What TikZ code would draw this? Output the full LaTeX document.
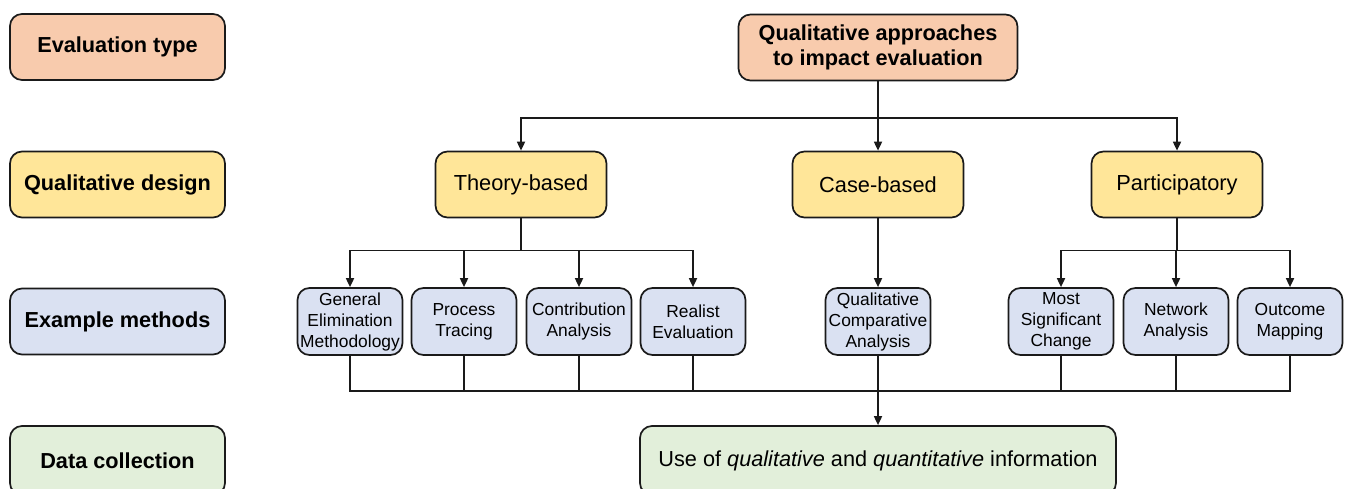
\documentclass[tikz,border=0pt]{standalone}
\usepackage{fontspec}
\setmainfont{Liberation Sans}
\usetikzlibrary{arrows.meta}
\definecolor{evalfill}{HTML}{F8CBAD}
\definecolor{designfill}{HTML}{FFE699}
\definecolor{methodfill}{HTML}{DAE1F2}
\definecolor{datafill}{HTML}{E2EFDA}
\definecolor{edge}{HTML}{1A1A1A}
\begin{document}
\begin{tikzpicture}[x=1pt,y=-1pt,
  box/.style={draw=edge,line width=1.7pt,rounded corners=12pt,align=center,inner sep=0pt},
  rowlabel/.style={box,minimum width=215pt,minimum height=66pt,font=\fontsize{21.7}{25}\selectfont\bfseries},
  evalbox/.style={fill=evalfill},
  designbox/.style={box,fill=designfill,minimum width=171pt,minimum height=66pt,font=\fontsize{21.8}{25}\selectfont},
  methodbox/.style={box,fill=methodfill,minimum width=105pt,minimum height=67pt,font=\fontsize{17.4}{21}\selectfont},
  link/.style={draw=edge,line width=1.7pt},
  arr/.style={link,-{Triangle[length=9pt,width=8pt]}}]
\useasboundingbox (0,0) rectangle (1346,489);
\begin{scope}
\clip (0,0) rectangle (1346,489);
% row labels
\node[rowlabel,evalbox] (lEval) at (117.5,47) {Evaluation type};
\node[rowlabel,fill=designfill] (lDesign) at (117.5,184.5) {Qualitative design};
\node[rowlabel,fill=methodfill] (lMethods) at (117.5,321.5) {Example methods};
\node[rowlabel,fill=datafill,minimum height=69pt] (lData) at (117.5,460.5) {Data collection};

% evaluation type
\node[box,evalbox,minimum width=279pt,minimum height=66pt,font=\fontsize{21.7}{25.5}\selectfont\bfseries] (top) at (878,47.5) {Qualitative approaches\\to impact evaluation};

% designs
\node[designbox] (tb) at (521,184.5) {Theory-based};
\node[designbox] (cb) at (878,184.5) {Case-based};
\node[designbox] (pa) at (1177,184.5) {Participatory};

% methods
\node[methodbox] (m1) at (350,321.5) {General\\Elimination\\Methodology};
\node[methodbox] (m2) at (464,321.5) {Process\\Tracing};
\node[methodbox] (m3) at (579,321.5) {Contribution\\Analysis};
\node[methodbox] (m4) at (693,321.5) {Realist\\Evaluation};
\node[methodbox] (m5) at (878,321.5) {Qualitative\\Comparative\\Analysis};
\node[methodbox] (m6) at (1061,321.5) {Most\\Significant\\Change};
\node[methodbox] (m7) at (1176,321.5) {Network\\Analysis};
\node[methodbox] (m8) at (1290,321.5) {Outcome\\Mapping};

% data collection
\node[box,fill=datafill,minimum width=476pt,minimum height=69pt,font=\fontsize{21.7}{25}\selectfont] (data) at (878,460.5) {Use of \textit{qualitative} and \textit{quantitative} information};

% connectors: evaluation type to designs
\draw[arr] (top.south) -- ++(0,37) -| (tb.north);
\draw[arr] (top.south) -- (cb.north);
\draw[arr] (top.south) -- ++(0,37) -| (pa.north);

% designs to methods
\draw[arr] (tb.south) -- ++(0,32) -| (m1.north);
\draw[arr] (tb.south) -- ++(0,32) -| (m2.north);
\draw[arr] (tb.south) -- ++(0,32) -| (m3.north);
\draw[arr] (tb.south) -- ++(0,32) -| (m4.north);
\draw[arr] (cb.south) -- (m5.north);
\draw[arr] (pa.south) -- ++(0,32) -| (m6.north);
\draw[arr] (pa.south) -- ++(0,32) -| (m7.north);
\draw[arr] (pa.south) -- ++(0,32) -| (m8.north);

% methods to data collection
\coordinate (bus) at (878,391);
\foreach \m in {m1,m2,m3,m4,m6,m7,m8}
  \draw[link] (\m.south) |- (bus);
\draw[arr] (m5.south) -- (data.north);
\end{scope}
\end{tikzpicture}
\end{document}
